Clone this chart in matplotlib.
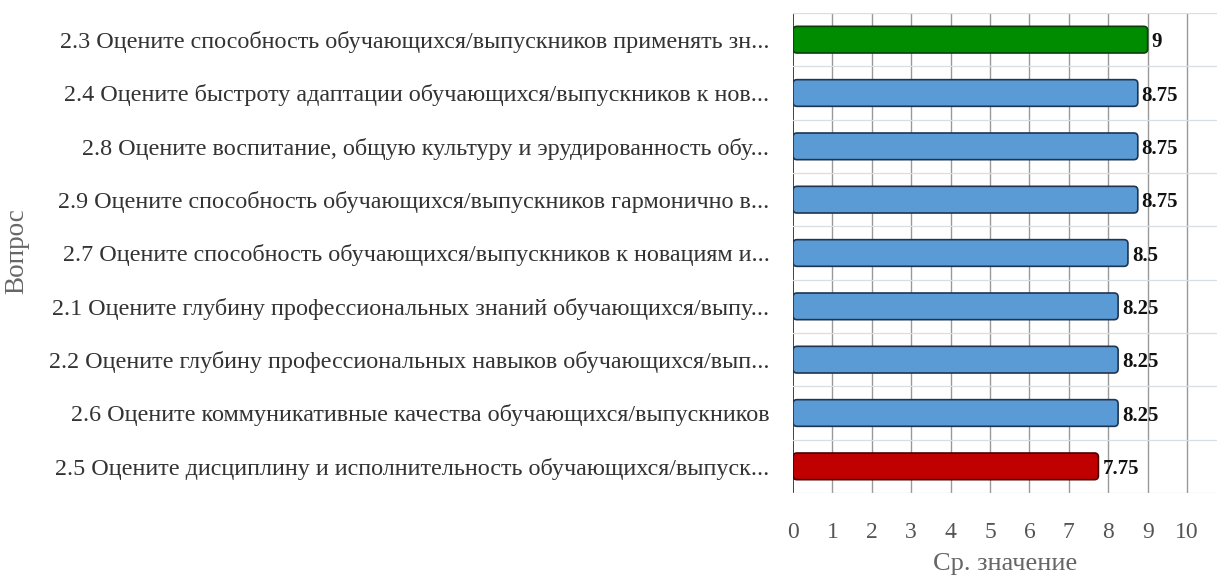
import matplotlib
matplotlib.use("Agg")
import matplotlib.pyplot as plt
from matplotlib.patches import FancyBboxPatch

categories = [
    "2.3 Оцените способность обучающихся/выпускников применять зн...",
    "2.4 Оцените быстроту адаптации обучающихся/выпускников к нов...",
    "2.8 Оцените воспитание, общую культуру и эрудированность обу...",
    "2.9 Оцените способность обучающихся/выпускников гармонично в...",
    "2.7 Оцените способность обучающихся/выпускников к новациям и...",
    "2.1 Оцените глубину профессиональных знаний обучающихся/выпу...",
    "2.2 Оцените глубину профессиональных навыков обучающихся/вып...",
    "2.6 Оцените коммуникативные качества обучающихся/выпускников",
    "2.5 Оцените дисциплину и исполнительность обучающихся/выпуск...",
]
values = [9, 8.75, 8.75, 8.75, 8.5, 8.25, 8.25, 8.25, 7.75]
value_labels = ["9", "8.75", "8.75", "8.75", "8.5", "8.25", "8.25", "8.25", "7.75"]
fill_colors = ["#008c00"] + ["#5b9bd5"] * 7 + ["#c00000"]
edge_colors = ["#0b3d0b"] + ["#1f3450"] * 7 + ["#4a0000"]
xticks = list(range(0, 11))

plt.rcParams['font.family'] = ['Liberation Serif', 'DejaVu Serif']

fig = plt.figure(figsize=(12.17, 5.80), dpi=100)
ax = fig.add_axes([793/1217, 1 - 493/580, 1 - 793/1217, (493 - 13)/580])

n = len(categories)
ys = list(range(n))
bar_h = 0.5
xmax = 10.76
# data units per pixel in x and y to keep rounded corners circular
x_per_px = xmax / 424
y_per_px = n / 480
for y, v, fc, ec, lbl in zip(ys, values, fill_colors, edge_colors, value_labels):
    p = FancyBboxPatch((0, y - bar_h/2), v, bar_h,
                       boxstyle="round,pad=0,rounding_size=%f" % (4 * x_per_px),
                       mutation_aspect=y_per_px / x_per_px,
                       facecolor=fc, edgecolor=ec, linewidth=1.2, zorder=3)
    ax.add_patch(p)
    ax.text(v + 0.1, y + 0.05, lbl, va="center", ha="left",
            fontsize=15, fontweight="bold", color="#111111", zorder=4)

ax.set_xlim(0, xmax)
ax.set_ylim(n - 0.5, -0.5)
ax.set_xticks(xticks)
ax.set_xticklabels([str(t) for t in xticks], fontsize=17, color="#555555")
ax.set_yticks(ys)
ax.set_yticklabels(categories, fontsize=17.4, color="#333333")
ax.tick_params(axis="x", length=0, pad=21)
ax.tick_params(axis="y", length=0, pad=17)

for t in xticks:
    ax.axvline(t, color="#999999" if t else "#333333", linewidth=1.0 if t else 1.3, zorder=1)
for b in range(n + 1):
    ax.axhline(b - 0.5, color="#d9dee2", linewidth=0.9, zorder=1)

for s in ax.spines.values():
    s.set_visible(False)

ax.set_xlabel("Ср. значение", fontsize=19, color="#666666", labelpad=7)
fig.text(17/1217, 1 - 251/580, "Вопрос", rotation=90, fontsize=19.5, color="#666666",
         ha="center", va="center")

fig.savefig("out.png", dpi=100)
